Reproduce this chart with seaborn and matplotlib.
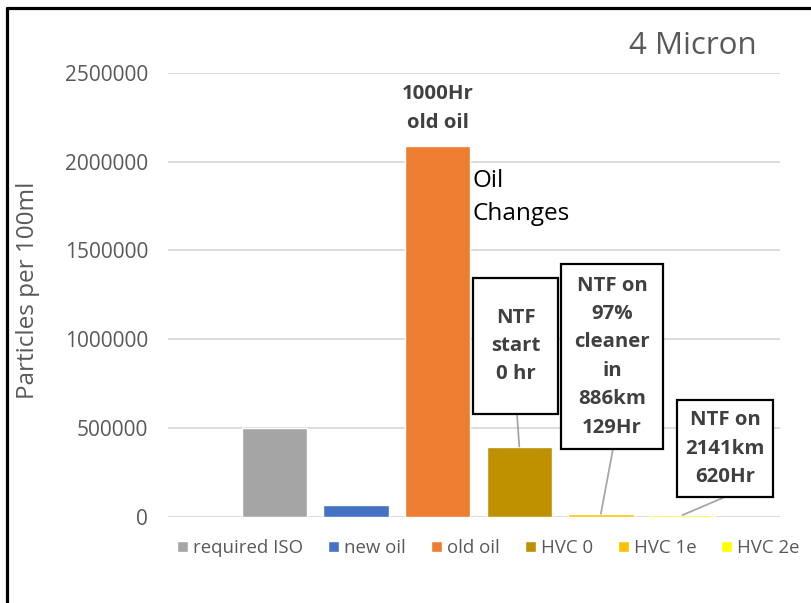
import matplotlib
matplotlib.use("Agg")
import matplotlib.pyplot as plt
from matplotlib.lines import Line2D
from matplotlib.patches import Rectangle
from matplotlib.ticker import FuncFormatter
import seaborn as sns
import pandas as pd

# ─── Dane ────────────────────────────────────────────────────────────
series = ["required ISO", "new oil", "old oil", "HVC 0", "HVC 1e", "HVC 2e"]
particles = [500000, 68000, 2088000, 395000, 17000, 9000]
colors = ["#A5A5A5", "#4472C4", "#ED7D31", "#BF9000", "#FFC000", "#FFFF00"]
y_ticks = [0, 500000, 1000000, 1500000, 2000000, 2500000]

callout_texts = ["NTF\nstart\n0 hr",
                 "NTF on\n97%\ncleaner\nin\n886km\n129Hr",
                 "NTF on\n2141km\n620Hr"]
callout_bars = [3, 4, 5]

# ─── Układ (pozycje ramek w jednostkach osi) ─────────────────────────
# (x_lewo, x_prawo, y_dół, y_góra), punkt startu linii (x, y)
boxes = [(2.433, 3.474, 578600, 1344900),
         (3.511, 4.761, 381400, 1423800),
         (4.933, 6.109, 111000, 657500)]
leader_start = [(2.972, 578600), (4.148, 381400), (5.52, 111000)]

sns.set_style("white")
plt.rcParams["font.family"] = ["Open Sans", "DejaVu Sans"]
TXT = "#595959"

df = pd.DataFrame({"series": series, "particles": particles})

fig = plt.figure(figsize=(8.11, 6.03), dpi=100)
ax = fig.add_axes([168 / 811, 86.3 / 603, 612 / 811, 443.7 / 603])

sns.barplot(data=df, x="series", y="particles", hue="series",
            palette=colors, width=0.8, saturation=1, ax=ax, legend=True,
            zorder=3)

ax.set_xlim(-1.305, 6.195)
ax.set_ylim(0, 2500000)
ax.set_yticks(y_ticks)
ax.yaxis.set_major_formatter(FuncFormatter(lambda v, p: f"{int(v)}"))
ax.grid(axis="y", color="#D9D9D9", linewidth=1.3, zorder=0)
ax.set_axisbelow(True)
ax.set_xticks([])
ax.set_xlabel("")
ax.set_ylabel("Particles per 100ml", fontsize=17.5, color=TXT)
ax.yaxis.set_label_coords(-0.209, 0.51)
ax.tick_params(axis="y", length=0, pad=14.4, labelsize=15, labelcolor=TXT)
for s in ax.spines.values():
    s.set_visible(False)

# ─── Legenda ─────────────────────────────────────────────────────────
handles, labels = ax.get_legend_handles_labels()
ax.legend(handles, labels, loc="center", bbox_to_anchor=(488.5 / 811, 55 / 603),
          bbox_transform=fig.transFigure, ncol=6, frameon=False,
          fontsize=13.4, labelcolor=TXT, handlelength=0.59, handleheight=0.59,
          handletextpad=0.27, columnspacing=1.34)

# ─── Etykiety ────────────────────────────────────────────────────────
ax.text(2, 2088000 + 75000, "1000Hr\nold oil", ha="center", va="bottom",
        fontsize=14.7, fontweight="bold", color="#404040", linespacing=1.56)
ax.text(2.43, 1959000, "Oil\nChanges", ha="left", va="top",
        fontsize=17.5, color="#000000", linespacing=1.5)

for txt, bi, (x0, x1, y0, y1), (lx, ly) in zip(callout_texts, callout_bars,
                                                boxes, leader_start):
    ax.add_patch(Rectangle((x0, y0), x1 - x0, y1 - y0, facecolor="white",
                           edgecolor="black", linewidth=1.6, zorder=5))
    ax.text((x0 + x1) / 2, (y0 + y1) / 2, txt, ha="center", va="center",
            fontsize=14.7, fontweight="bold", color="#404040",
            linespacing=1.56, zorder=6)
    ax.plot([lx, bi], [ly, particles[bi]], color="#A6A6A6", linewidth=1.3,
            zorder=4)

fig.text(757 / 811, 1 - 46 / 603, "4 Micron", ha="right", va="center",
         fontsize=22.5, color=TXT)

# ramka (lewa i górna krawędź)
top = 1 - 7.5 / 603
left = 6.5 / 811
fig.add_artist(Line2D([left, left], [0, top], color="black", linewidth=2.3,
                      transform=fig.transFigure))
fig.add_artist(Line2D([left, 1], [top, top], color="black", linewidth=2.3,
                      transform=fig.transFigure))

fig.savefig("out.png", dpi=100)
